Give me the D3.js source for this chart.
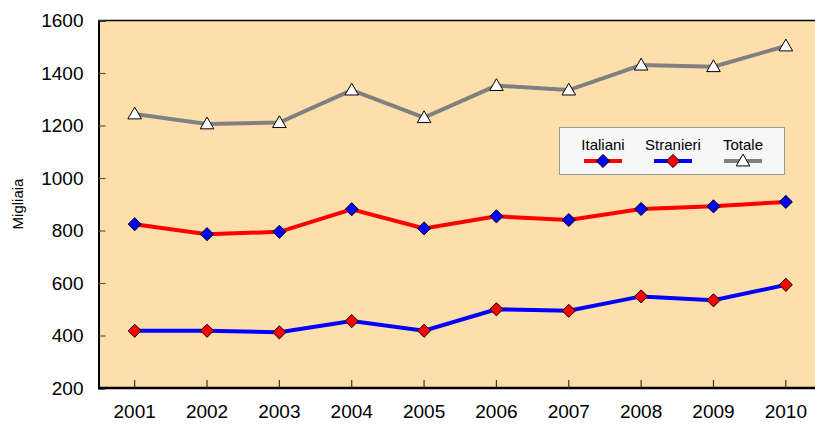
<!DOCTYPE html>
<html>
<head>
<meta charset="utf-8">
<script src="https://cdn.jsdelivr.net/npm/d3@7"></script>
<style>
  html, body { margin: 0; padding: 0; background: #fff; }
  svg { display: block; font-family: "Liberation Sans", Arial, sans-serif; }
</style>
</head>
<body>
<svg id="chart" width="815" height="425"></svg>
<script>
const years = ["2001","2002","2003","2004","2005","2006","2007","2008","2009","2010"];
const italiani = [824, 786, 795, 881, 808, 854, 840, 882, 892, 909];
const stranieri = [418, 418, 412, 455, 418, 500, 494, 549, 534, 593];
const totale = [1244, 1206, 1211, 1335, 1230, 1352, 1335, 1430, 1424, 1503];
const yTicks = [200, 400, 600, 800, 1000, 1200, 1400, 1600];
const seriesNames = ["Italiani", "Stranieri", "Totale"];

(function () {
const svg = d3.select("#chart");
const pLeft = 98.5, pTop = 20.5, pBottom = 388, pRight = 822;

const x = d3.scaleBand().domain(years).range([pLeft, pRight]);
const y = d3.scaleLinear().domain([200, 1600]).range([pBottom, pTop]);
const cx = d => x(d) + x.bandwidth() / 2;

svg.append("rect").attr("x", pLeft).attr("y", pTop)
  .attr("width", pRight - pLeft).attr("height", pBottom - pTop)
  .attr("fill", "#FEDFAB");

svg.append("line").attr("x1", pLeft).attr("x2", 815).attr("y1", pTop).attr("y2", pTop)
  .attr("stroke", "#000").attr("stroke-width", 1.5);

const yAxis = svg.append("g").attr("transform", `translate(${pLeft},0)`)
  .call(d3.axisLeft(y).tickValues(yTicks).tickSize(-7).tickPadding(15).tickFormat(d3.format("d")));
yAxis.select(".domain").attr("stroke", "#000").attr("stroke-width", 2);
yAxis.selectAll(".tick line").attr("stroke", "#555").attr("stroke-width", 1.2);
yAxis.selectAll("text").attr("font-size", 19).attr("fill", "#000")
  .attr("font-family", "Liberation Sans, Arial, sans-serif");

const xAxis = svg.append("g").attr("transform", `translate(0,${pBottom})`)
  .call(d3.axisBottom(x).tickSize(-8).tickPadding(17));
xAxis.select(".domain").attr("stroke", "#000").attr("stroke-width", 2.5)
  .attr("d", `M${pLeft},0H815`);
xAxis.selectAll(".tick line").attr("stroke", "#333").attr("stroke-width", 1.2);
xAxis.selectAll("text").attr("font-size", 19).attr("fill", "#000")
  .attr("font-family", "Liberation Sans, Arial, sans-serif");

svg.append("text").attr("transform", "translate(23,204) rotate(-90)")
  .attr("text-anchor", "middle").attr("font-size", 15).text("Migliaia");

const line = d3.line().x((d, i) => cx(years[i])).y(d => y(d));
const diamond = d3.symbol().type(d3.symbolDiamond2).size(110);
const tri = d3.symbol().type(d3.symbolTriangle).size(80);

const series = [
  { name: "Italiani", data: italiani, line: "#FF0000", fill: "#0000FF", sym: diamond },
  { name: "Stranieri", data: stranieri, line: "#0000FF", fill: "#FF0000", sym: diamond },
  { name: "Totale", data: totale, line: "#808080", fill: "#FFFFFF", sym: tri }
];

series.forEach(s => {
  svg.append("path").datum(s.data).attr("d", line)
    .attr("fill", "none").attr("stroke", s.line).attr("stroke-width", 4);
  svg.selectAll(null).data(s.data).enter().append("path")
    .attr("d", s.sym)
    .attr("transform", (d, i) => `translate(${cx(years[i])},${y(d) + (s.sym === tri ? 1 : 0)})`)
    .attr("fill", s.fill).attr("stroke", "#000").attr("stroke-width", 1);
});

const lg = svg.append("g");
lg.append("rect").attr("x", 559.5).attr("y", 127.5).attr("width", 225).attr("height", 47)
  .attr("fill", "#F7F7F7").attr("stroke", "#9A9A9A").attr("stroke-width", 1);
const legX = [603, 673, 743];
series.forEach((s, i) => {
  lg.append("text").attr("x", legX[i]).attr("y", 149.5).attr("text-anchor", "middle")
    .attr("font-size", 15).text(seriesNames[i]);
  lg.append("line").attr("x1", legX[i] - 19).attr("x2", legX[i] + 19)
    .attr("y1", 161).attr("y2", 161).attr("stroke", s.line).attr("stroke-width", 4);
  lg.append("path").attr("d", s.sym)
    .attr("transform", `translate(${legX[i]},${161 + (s.sym === tri ? 1 : 0)})`)
    .attr("fill", s.fill).attr("stroke", "#000").attr("stroke-width", 1);
});
})();
</script>
</body>
</html>
